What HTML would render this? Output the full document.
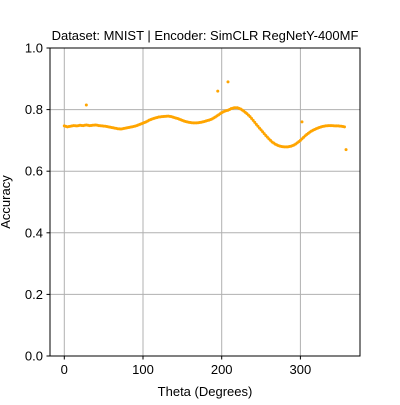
<!DOCTYPE html>
<html><head><meta charset="utf-8"><style>
body{margin:0;background:#fff;}
svg text{font-family:"Liberation Sans","DejaVu Sans",sans-serif;fill:#000;}
</style></head><body>
<svg width="400" height="400" viewBox="0 0 400 400">
<rect width="400" height="400" fill="#fff"/>
<g id="grid"></g>
<g id="pts"></g>
<rect x="50" y="48" width="310" height="308" fill="none" stroke="#000" stroke-width="1"/>
<g id="ticks"></g>
<text x="205" y="40" text-anchor="middle" font-size="13">Dataset: MNIST | Encoder: SimCLR RegNetY-400MF</text>
<text x="205" y="396" text-anchor="middle" font-size="13">Theta (Degrees)</text>
<text x="10" y="202" text-anchor="middle" font-size="13" transform="rotate(-90 10 202)">Accuracy</text>
</svg>
<script>
const xTicks=[0,100,200,300];
const yTicks=[0,0.2,0.4,0.6,0.8,1.0];
const yTickLabels=["0.0","0.2","0.4","0.6","0.8","1.0"];
const thetas=[0,4,8,12,16,20,24,28,32,36,40,44,48,52,56,60,64,68,72,76,80,84,88,92,96,100,104,108,112,116,120,124,128,132,136,140,144,148,152,156,160,164,168,172,176,180,184,188,192,196,200,204,208,212,216,220,224,228,232,236,240,244,248,252,256,260,264,268,272,276,280,284,288,292,296,300,304,308,312,316,320,324,328,332,336,340,344,348,352,356];
const accuracy=[0.747,0.744,0.746,0.748,0.747,0.749,0.748,0.750,0.748,0.749,0.750,0.748,0.747,0.746,0.744,0.742,0.740,0.738,0.737,0.739,0.741,0.743,0.745,0.748,0.752,0.756,0.760,0.766,0.770,0.773,0.776,0.777,0.778,0.779,0.777,0.774,0.771,0.767,0.763,0.760,0.758,0.757,0.757,0.758,0.760,0.763,0.766,0.770,0.776,0.783,0.790,0.795,0.798,0.803,0.806,0.806,0.802,0.795,0.787,0.777,0.765,0.752,0.740,0.728,0.716,0.705,0.695,0.688,0.683,0.680,0.679,0.679,0.681,0.685,0.692,0.700,0.710,0.719,0.727,0.733,0.738,0.742,0.745,0.747,0.748,0.748,0.747,0.747,0.746,0.744];
const outlierThetas=[28,195,208,302,358];
const outlierAcc=[0.815,0.86,0.89,0.76,0.67];
const NS="http://www.w3.org/2000/svg";
const X=v=>64.3+v*0.787;
const Y=v=>356-v*308;
const grid=document.getElementById('grid'),ticks=document.getElementById('ticks'),pts=document.getElementById('pts');
function mk(tag,attrs,parent){const e=document.createElementNS(NS,tag);for(const k in attrs)e.setAttribute(k,attrs[k]);parent.appendChild(e);return e;}
xTicks.forEach(t=>{
  const g=mk('line',{x1:X(t),x2:X(t),y1:48,y2:356,stroke:'#b0b0b0','stroke-width':1},grid);
  
  
  mk('line',{x1:X(t),x2:X(t),y1:356,y2:359.5,stroke:'#000'},ticks);
  const tx=mk('text',{x:X(t),y:374,'text-anchor':'middle','font-size':13},ticks);
  tx.textContent=t;
  
  
});
yTicks.forEach((t,i)=>{
  const g=mk('line',{x1:50,x2:360,y1:Y(t),y2:Y(t),stroke:'#b0b0b0','stroke-width':1},grid);
  
  
  mk('line',{x1:46.5,x2:50,y1:Y(t),y2:Y(t),stroke:'#000'},ticks);
  const tx=mk('text',{x:43,y:Y(t)+4.5,'text-anchor':'end','font-size':13},ticks);
  tx.textContent=yTickLabels[i];
  
  
});
function pt(th,a){
  const c=mk('circle',{cx:X(th),cy:Y(a),r:1.5,fill:'#ffa500'},pts);
  
  
}
thetas.forEach((th,i)=>{pt(th,accuracy[i]);if(i<thetas.length-1)pt(th+2,(accuracy[i]+accuracy[i+1])/2);});
outlierThetas.forEach((th,i)=>pt(th,outlierAcc[i]));
</script>
</body></html>
